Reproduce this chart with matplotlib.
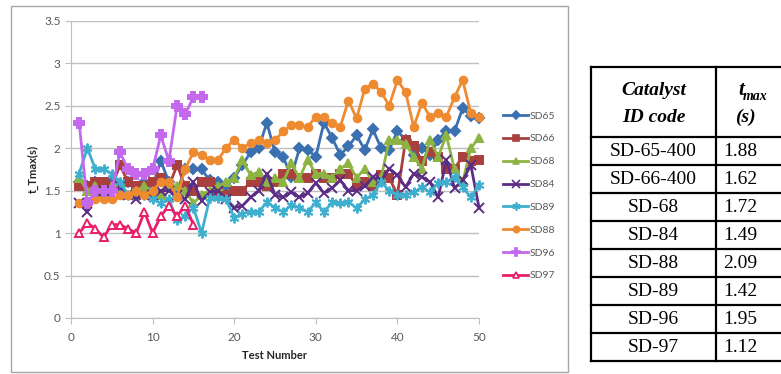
import matplotlib.pyplot as plt
import matplotlib.lines as mlines
from matplotlib.patches import Rectangle

W, H = 781, 374

test_full = list(range(1, 51))
test_sd96 = list(range(1, 17))
test_sd97 = list(range(1, 16))

sd65 = [1.6, 1.55, 1.6, 1.45, 1.6, 1.55, 1.6, 1.5, 1.6, 1.55, 1.85, 1.6, 1.5, 1.75, 1.75,
        1.75, 1.62, 1.6, 1.55, 1.65, 1.8, 1.95, 2.0, 2.3, 1.95, 1.9, 1.66, 2.0, 1.98, 1.9,
        2.3, 2.12, 1.92, 2.02, 2.15, 1.98, 2.22, 2.0, 1.98, 2.2, 2.1, 1.92, 2.0, 1.92, 2.1,
        2.2, 2.2, 2.47, 2.38, 2.35]
sd66 = [1.55, 1.55, 1.6, 1.6, 1.55, 1.8, 1.6, 1.55, 1.55, 1.6, 1.65, 1.55, 1.8, 1.55, 1.5,
        1.6, 1.6, 1.5, 1.45, 1.5, 1.5, 1.6, 1.6, 1.55, 1.6, 1.7, 1.7, 1.65, 1.65, 1.7,
        1.65, 1.65, 1.7, 1.7, 1.56, 1.6, 1.55, 1.68, 1.65, 1.45, 2.09, 2.03, 1.85, 1.95, 1.9,
        1.75, 1.76, 1.9, 1.85, 1.86]
sd68 = [1.65, 1.5, 1.55, 1.45, 1.55, 1.6, 1.45, 1.5, 1.55, 1.5, 1.45, 1.55, 1.55, 1.5, 1.35,
        1.45, 1.5, 1.55, 1.6, 1.65, 1.86, 1.68, 1.72, 1.6, 1.65, 1.6, 1.82, 1.65, 1.86, 1.7,
        1.7, 1.65, 1.76, 1.82, 1.65, 1.76, 1.6, 1.65, 2.09, 2.1, 2.05, 1.9, 1.76, 2.09, 1.9,
        2.15, 1.75, 1.6, 2.0, 2.12]
sd84 = [1.35, 1.25, 1.45, 1.5, 1.45, 1.55, 1.45, 1.4, 1.45, 1.45, 1.5, 1.5, 1.45, 1.4, 1.6,
        1.38, 1.48, 1.5, 1.4, 1.3, 1.32, 1.42, 1.5, 1.7, 1.45, 1.42, 1.48, 1.42, 1.47, 1.59,
        1.47, 1.53, 1.62, 1.5, 1.5, 1.55, 1.66, 1.62, 1.76, 1.68, 1.54, 1.7, 1.66, 1.6, 1.42,
        1.86, 1.53, 1.62, 1.8, 1.3]
sd89 = [1.7, 2.0, 1.75, 1.75, 1.7, 1.6, 1.45, 1.5, 1.45, 1.4, 1.35, 1.4, 1.15, 1.2, 1.3,
        1.0, 1.41, 1.41, 1.4, 1.18, 1.23, 1.25, 1.25, 1.36, 1.3, 1.25, 1.33, 1.3, 1.25, 1.36,
        1.25, 1.36, 1.35, 1.37, 1.29, 1.4, 1.45, 1.6, 1.5, 1.45, 1.45, 1.48, 1.54, 1.48, 1.59,
        1.6, 1.66, 1.54, 1.42, 1.56]
sd88 = [1.35, 1.35, 1.4, 1.4, 1.4, 1.45, 1.45, 1.5, 1.45, 1.5, 1.6, 1.6, 1.42, 1.76, 1.95,
        1.92, 1.86, 1.86, 2.0, 2.1, 2.0, 2.06, 2.1, 2.06, 2.09, 2.2, 2.27, 2.27, 2.25, 2.37,
        2.37, 2.3, 2.25, 2.56, 2.35, 2.7, 2.76, 2.66, 2.5, 2.8, 2.66, 2.25, 2.53, 2.37, 2.41,
        2.37, 2.6, 2.8, 2.41, 2.37]
sd96 = [2.3, 1.35, 1.5, 1.5, 1.5, 1.95, 1.75, 1.7, 1.7, 1.75, 2.15, 1.85, 2.5, 2.4, 2.6, 2.6]
sd97 = [1.0, 1.12, 1.05, 0.95, 1.1, 1.1, 1.05, 1.0, 1.25, 1.0, 1.2, 1.32, 1.2, 1.32, 1.1]

table_ids = ["SD-65-400", "SD-66-400", "SD-68", "SD-84", "SD-88", "SD-89", "SD-96", "SD-97"]
table_tmax = ["1.88", "1.62", "1.72", "1.49", "2.09", "1.42", "1.95", "1.12"]

series = [
    ("SD65", test_full, sd65, "#3A6FB0", "D", "#3A6FB0"),
    ("SD66", test_full, sd66, "#A9403D", "s", "#A9403D"),
    ("SD68", test_full, sd68, "#8DB443", "^", "#8DB443"),
    ("SD84", test_full, sd84, "#5B2D84", "x", "#5B2D84"),
    ("SD89", test_full, sd89, "#3FAFCF", (6, 2, 0), "#3FAFCF"),
    ("SD88", test_full, sd88, "#EE8A30", "o", "#EE8A30"),
    ("SD96", test_sd96, sd96, "#C468EE", "P", "#C468EE"),
    ("SD97", test_sd97, sd97, "#E91E6A", "^", "white"),
]


def fx(px):
    return px / W


def fy(py):
    return 1 - py / H


fig = plt.figure(figsize=(W / 100, H / 100), dpi=100)
plt.rcParams["font.family"] = ["Lato", "DejaVu Sans"]

# chart frame
fig.patches.append(Rectangle((fx(11), fy(372)), fx(568) - fx(11), fy(6) - fy(372),
                             transform=fig.transFigure, fill=False, edgecolor="#A6A6A6",
                             linewidth=1.0))

ax = fig.add_axes([fx(71), fy(318), fx(479) - fx(71), fy(20.7) - fy(318)])
ax.set_xlim(0, 50)
ax.set_ylim(0, 3.5)
ax.set_xticks([0, 10, 20, 30, 40, 50])
ax.set_yticks([0, 0.5, 1, 1.5, 2, 2.5, 3, 3.5])
ax.set_yticklabels(["0", "0.5", "1", "1.5", "2", "2.5", "3", "3.5"])
ax.grid(axis="y", color="#BFBFBF", linewidth=1.0)
ax.set_axisbelow(True)
for s in ["top", "right"]:
    ax.spines[s].set_visible(False)
for s in ["left", "bottom"]:
    ax.spines[s].set_color("#BFBFBF")
ax.tick_params(colors="#BFBFBF", labelcolor="#595959", labelsize=8.5, length=4, direction="out")
ax.tick_params(axis="x", pad=6)
ax.set_xlabel("Test Number", fontsize=8, fontweight="bold", color="#262626", labelpad=5)
ax.set_ylabel("t_Tmax(s)", fontsize=8, fontweight="bold", color="#262626", labelpad=4)

handles = []
for name, x, y, col, mk, face in series:
    ms = 7 if mk in ("x", (6, 2, 0), "P") else 5.5
    ax.plot(x, y, color=col, linewidth=2.0, marker=mk, markersize=ms,
            markerfacecolor=face, markeredgecolor=col, markeredgewidth=1.4, clip_on=False)
    handles.append(mlines.Line2D([], [], color=col, linewidth=2.0, marker=mk, markersize=ms - 1,
                                 markerfacecolor=face, markeredgecolor=col, markeredgewidth=1.2))

fig.legend(handles, [s[0] for s in series], loc="upper left",
           bbox_to_anchor=(fx(494), fy(102)), frameon=False, fontsize=7.5,
           labelcolor="#595959", handlelength=2.4, handletextpad=0.1, labelspacing=1.3)

# table on the right
tab = fig.add_axes([0, 0, 1, 1])
tab.set_xlim(0, W)
tab.set_ylim(H, 0)
tab.axis("off")
row_y = [67, 137, 165, 193, 221, 249, 277, 305, 333, 361]
x_left, x_mid, x_right = 591, 716, 800
for yy in row_y:
    tab.plot([x_left, x_right], [yy, yy], color="black", linewidth=1.6)
for xx in [x_left, x_mid]:
    tab.plot([xx, xx], [row_y[0], row_y[-1]], color="black", linewidth=1.6)

serif = "Liberation Serif"
tab.text((x_left + x_mid) / 2, 90, "Catalyst", ha="center", va="center",
         fontsize=14, fontweight="bold", fontstyle="italic", family=serif)
tab.text((x_left + x_mid) / 2, 117, "ID code", ha="center", va="center",
         fontsize=14, fontweight="bold", fontstyle="italic", family=serif)
tab.text(738, 90, "t", ha="left", va="center",
         fontsize=15, fontweight="bold", fontstyle="italic", family=serif)
tab.text(743, 96, "max", ha="left", va="center",
         fontsize=10, fontweight="bold", fontstyle="italic", family=serif)
tab.text(735, 117, "(s)", ha="left", va="center",
         fontsize=14, fontweight="bold", fontstyle="italic", family=serif)
for i, (cid, tm) in enumerate(zip(table_ids, table_tmax)):
    yc = (row_y[i + 1] + row_y[i + 2]) / 2
    tab.text((x_left + x_mid) / 2, yc, cid, ha="center", va="center", fontsize=14, family=serif)
    tab.text(723, yc, tm, ha="left", va="center", fontsize=14, family=serif)

fig.savefig("out.png", dpi=100)
